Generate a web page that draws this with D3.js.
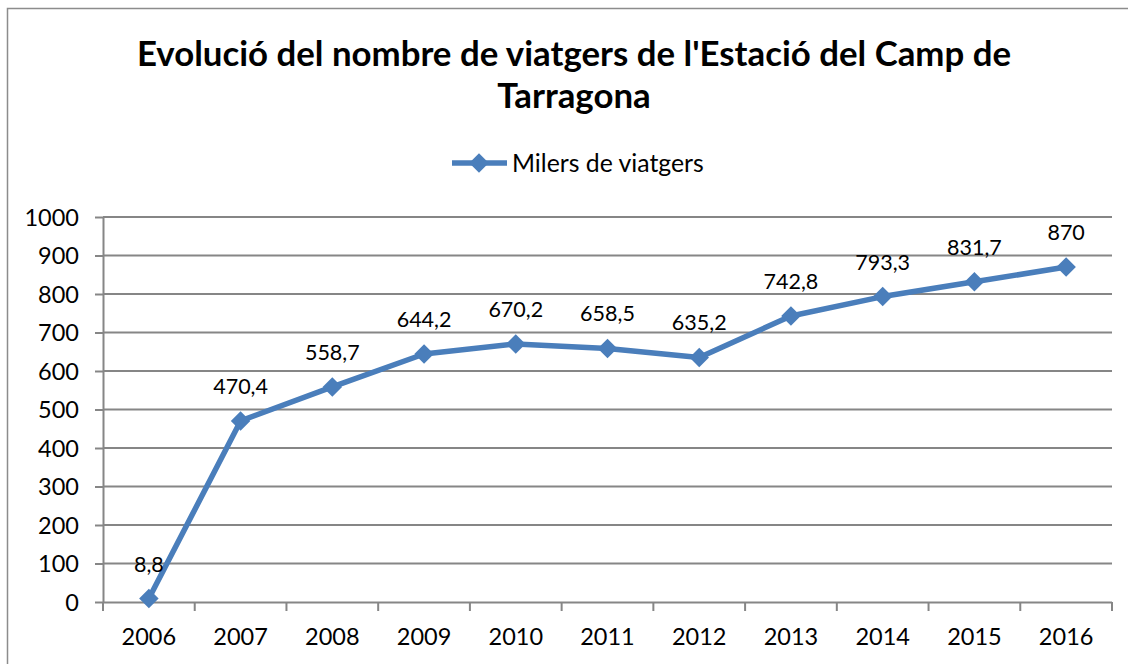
<!DOCTYPE html>
<html><head><meta charset="utf-8">
<script src="https://cdn.jsdelivr.net/npm/d3@7"></script>
<style>
body{margin:0;background:#fff;}
text{font-family:Lato,"Open Sans",sans-serif;fill:#000;}
</style></head>
<body><svg id="c" width="1128" height="664"></svg>
<script>
const years = ["2006","2007","2008","2009","2010","2011","2012","2013","2014","2015","2016"];
const values = [8.8,470.4,558.7,644.2,670.2,658.5,635.2,742.8,793.3,831.7,870];
const valueLabels = ["8,8","470,4","558,7","644,2","670,2","658,5","635,2","742,8","793,3","831,7","870"];
const yTicks = [0,100,200,300,400,500,600,700,800,900,1000];
const titleLines = ["Evolució del nombre de viatgers de l'Estació del Camp de","Tarragona"];
const seriesName = "Milers de viatgers";

const svg = d3.select("#c");
const color = "#4A7EBB";
const grid = "#868686";

// outer border
svg.append("rect").attr("x",7.5).attr("y",8.5).attr("width",1130).attr("height",670)
  .attr("fill","none").attr("stroke","#8c8c8c").attr("stroke-width",1.5);

const L=103, R=1112, T=217, B=602;
const x = d3.scaleBand().domain(years).range([L,R]);
const y = d3.scaleLinear().domain([0,1000]).range([B,T]);

// title
svg.selectAll(".title").data(titleLines).enter().append("text")
  .attr("x",574).attr("y",(d,i)=>66+i*42).attr("text-anchor","middle")
  .style("font-weight","bold").style("font-size","34.8px").text(d=>d);

// gridlines + y axis
const yAxis = d3.axisLeft(y).tickValues(yTicks).tickSize(8).tickPadding(16).tickFormat(d3.format("d"));
const gy = svg.append("g").attr("transform",`translate(${L},0)`).call(yAxis);
gy.select(".domain").attr("stroke",grid).attr("stroke-width",2).attr("d",`M0.5,${T}V${B}`);
gy.selectAll(".tick line").attr("stroke",grid).attr("stroke-width",2);
gy.selectAll(".tick text").style("font-size","23.5px").attr("dy","0.35em").attr("fill","#000");
svg.append("g").selectAll("line").data(yTicks.filter(d=>d>0)).enter().append("line")
  .attr("x1",L).attr("x2",R).attr("y1",d=>y(d)).attr("y2",d=>y(d))
  .attr("stroke",grid).attr("stroke-width",2);

// x axis
const xAxis = d3.axisBottom(x).tickSize(0).tickPadding(26);
const gx = svg.append("g").attr("transform",`translate(0,${B})`).call(xAxis);
gx.select(".domain").attr("stroke",grid).attr("stroke-width",2).attr("d",`M${L},0.5H${R}`);
gx.selectAll(".tick text").style("font-size","23.5px").attr("dy","0.71em").attr("fill","#000");
const bounds = years.map(d=>x(d)).concat([R]);
svg.append("g").selectAll("line").data(bounds).enter().append("line")
  .attr("x1",d=>d).attr("x2",d=>d).attr("y1",B).attr("y2",B+9)
  .attr("stroke",grid).attr("stroke-width",2);

// line
const cx = d=>x(d)+x.bandwidth()/2;
const line = d3.line().x((d,i)=>cx(years[i])).y(d=>y(d));
svg.append("path").datum(values).attr("d",line).attr("fill","none")
  .attr("stroke",color).attr("stroke-width",5.5).attr("stroke-linejoin","round");
svg.append("g").selectAll("path").data(values).enter().append("path")
  .attr("d", d3.symbol().type(d3.symbolSquare).size(190))
  .attr("transform",(d,i)=>`translate(${cx(years[i])},${y(d)}) rotate(45)`)
  .attr("fill",color);

// labels
svg.append("g").selectAll("text").data(values).enter().append("text")
  .attr("x",(d,i)=>cx(years[i])).attr("y",d=>y(d)-27).attr("text-anchor","middle")
  .style("font-size","21.5px").text((d,i)=>valueLabels[i]);

// legend
const lg = svg.append("g");
lg.append("line").attr("x1",452).attr("x2",507).attr("y1",163).attr("y2",163)
  .attr("stroke",color).attr("stroke-width",5.5);
lg.append("path").attr("d",d3.symbol().type(d3.symbolSquare).size(190))
  .attr("transform","translate(479,163) rotate(45)").attr("fill",color);
lg.append("text").attr("x",512).attr("y",163).attr("dy","0.35em")
  .style("font-size","24.8px").text(seriesName);
</script></body></html>
